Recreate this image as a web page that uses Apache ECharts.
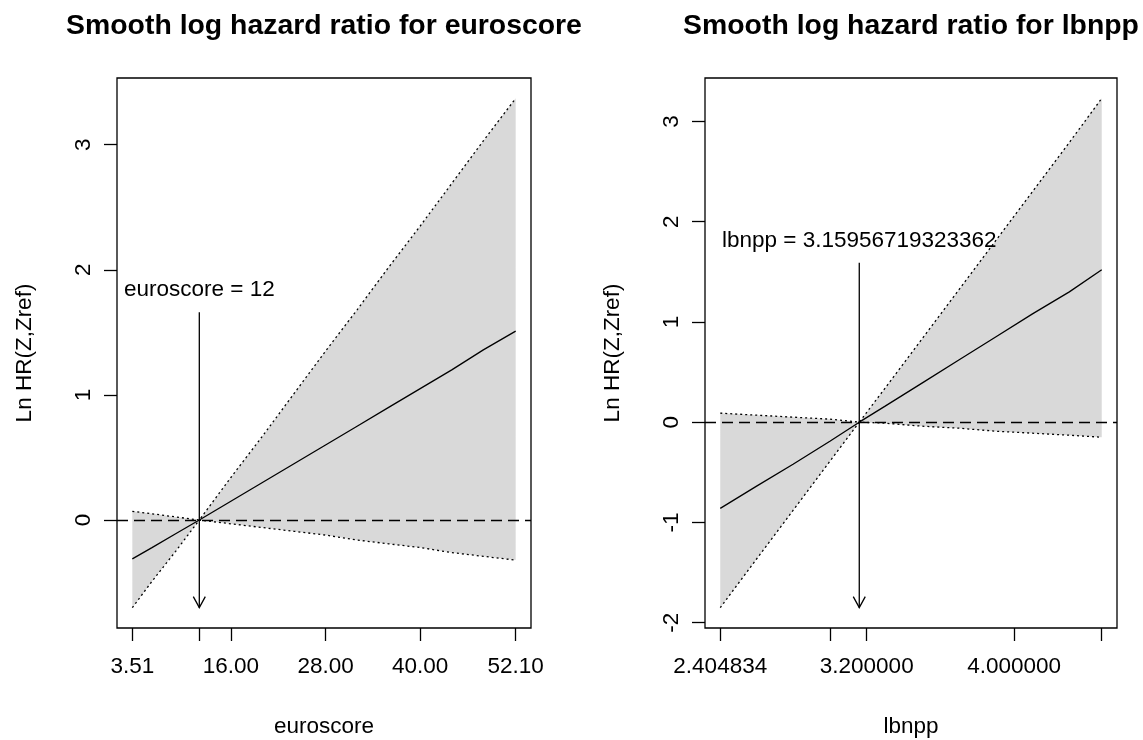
<!DOCTYPE html>
<html>
<head>
<meta charset="utf-8">
<script src="https://cdn.jsdelivr.net/npm/echarts@6/dist/echarts.min.js"></script>
<style>
  html, body { margin: 0; padding: 0; background: #fff; }
  #chart { width: 1143px; height: 740px; }
</style>
</head>
<body>
<div id="chart"></div>
<script>
// ---- euroscore panel ----
const euroX     = [3.51, 6, 9, 12, 16, 20, 24, 28, 32, 36, 40, 44, 48, 52.1];
const euroFit   = [-0.31, -0.22, -0.11, 0, 0.15, 0.30, 0.45, 0.60, 0.75, 0.90, 1.05, 1.20, 1.36, 1.51];
const euroUpper = [0.07, 0.05, 0.025, 0, 0.34, 0.67, 1.01, 1.35, 1.68, 2.02, 2.35, 2.69, 3.03, 3.37];
const euroLower = [-0.70, -0.49, -0.25, 0, -0.03, -0.06, -0.09, -0.12, -0.16, -0.19, -0.22, -0.26, -0.29, -0.32];
const euroRef = 12;
const euroTickX  = [3.51, 12, 16, 28, 40, 52.1];
const euroLabelX = [3.51, 16, 28, 40, 52.1];
const euroTickY  = [0, 1, 2, 3];
const euroRefText = 1.84, euroArrowTop = 1.66;

// ---- lbnpp panel ----
const lbX     = [2.404834, 2.6, 2.8, 3.0, 3.15956719323362, 3.3, 3.5, 3.7, 3.9, 4.1, 4.3, 4.476];
const lbFit   = [-0.86, -0.64, -0.42, -0.19, 0, 0.16, 0.39, 0.62, 0.85, 1.08, 1.30, 1.52];
const lbUpper = [0.09, 0.07, 0.05, 0.03, 0, 0.34, 0.83, 1.32, 1.81, 2.30, 2.79, 3.23];
const lbLower = [-1.85, -1.37, -0.88, -0.39, 0, -0.01, -0.04, -0.06, -0.09, -0.11, -0.13, -0.15];
const lbRef = 3.15956719323362;
const lbTickX  = [2.404834, 3.0, 3.2, 4.0, 4.476];
const lbLabelX = [2.404834, 3.2, 4.0];
const lbTickY  = [-2, -1, 0, 1, 2, 3];
const lbRefText = 1.81, lbArrowTop = 1.59;

const FONT = '"Liberation Sans", Arial, sans-serif';
const zip = (xs, ys) => xs.map((x, i) => [x, ys[i]]);

// axis range padded 4% on each side of the data
function padRange(arrs) {
  const all = [].concat(...arrs);
  const lo = Math.min(...all), hi = Math.max(...all);
  const d = (hi - lo) * 0.04;
  return [lo - d, hi + d];
}

const panels = [
  { name: 'euroscore', x: euroX, fit: euroFit, up: euroUpper, lo: euroLower, ref: euroRef,
    refLabel: 'euroscore = ' + euroRef, tickX: euroTickX, labelX: euroLabelX, tickY: euroTickY,
    fmt: v => v.toFixed(2), textY: euroRefText, arrowTop: euroArrowTop,
    grid: { left: 117, top: 78, width: 414, height: 550 } },
  { name: 'lbnpp', x: lbX, fit: lbFit, up: lbUpper, lo: lbLower, ref: lbRef,
    refLabel: 'lbnpp = ' + lbRef, tickX: lbTickX, labelX: lbLabelX, tickY: lbTickY,
    fmt: v => v.toFixed(6), textY: lbRefText, arrowTop: lbArrowTop,
    grid: { left: 705, top: 78, width: 412, height: 550 } }
];

const grids = [], xAxes = [], yAxes = [], series = [], graphics = [];

panels.forEach((p, i) => {
  const xr = padRange([p.x]);
  const yr = padRange([p.up, p.lo]);
  grids.push(Object.assign({ show: true, borderColor: '#000', borderWidth: 1.3, backgroundColor: 'transparent' }, p.grid));

  xAxes.push({
    type: 'value', gridIndex: i, min: xr[0], max: xr[1], position: 'bottom',
    axisLine: { show: false, onZero: false }, splitLine: { show: false },
    axisTick: { show: true, length: 13, customValues: p.tickX, lineStyle: { color: '#000', width: 1.3 } },
    axisLabel: { customValues: p.labelX, formatter: p.fmt, margin: 27, color: '#000',
                 fontFamily: FONT, fontSize: 22.5 }
  });
  yAxes.push({
    type: 'value', gridIndex: i, min: yr[0], max: yr[1], position: 'left',
    axisLine: { show: false, onZero: false }, splitLine: { show: false },
    axisTick: { show: true, length: 13, customValues: p.tickY, lineStyle: { color: '#000', width: 1.3 } },
    axisLabel: { customValues: p.tickY, rotate: 90, margin: 22, color: '#000',
                 fontFamily: FONT, fontSize: 22.5 }
  });

  const minLower = Math.min(...p.lo);

  // confidence band
  series.push({
    type: 'custom', xAxisIndex: i, yAxisIndex: i, silent: true, z: 1,
    data: [[p.x[0], p.up[0]]],
    renderItem: (params, api) => {
      const pts = zip(p.x, p.up).map(d => api.coord(d))
        .concat(zip(p.x, p.lo).reverse().map(d => api.coord(d)));
      return { type: 'polygon', shape: { points: pts }, style: { fill: '#d9d9d9', stroke: null } };
    }
  });

  const lineBase = { type: 'line', xAxisIndex: i, yAxisIndex: i, symbol: 'none', silent: true, z: 3,
                     animation: false };
  series.push(Object.assign({}, lineBase, {
    data: zip(p.x, p.up), lineStyle: { color: '#000', width: 1.3, type: [2, 3] } }));
  series.push(Object.assign({}, lineBase, {
    data: zip(p.x, p.lo), lineStyle: { color: '#000', width: 1.3, type: [2, 3] } }));
  series.push(Object.assign({}, lineBase, {
    data: zip(p.x, p.fit), lineStyle: { color: '#000', width: 1.3 },
    markLine: { silent: true, symbol: 'none', label: { show: false },
                lineStyle: { color: '#000', width: 1.3, type: [11, 6] },
                data: [{ yAxis: 0 }] } }));

  // reference value: label and arrow pointing down
  series.push({
    type: 'custom', xAxisIndex: i, yAxisIndex: i, silent: true, z: 4,
    data: [[p.ref, p.textY, p.arrowTop, minLower]],
    encode: { x: 0, y: [1, 2, 3] },
    renderItem: (params, api) => {
      const t = api.coord([api.value(0), api.value(1)]);
      const a = api.coord([api.value(0), api.value(2)]);
      const b = api.coord([api.value(0), api.value(3)]);
      const h = 11, w = 6;
      return { type: 'group', children: [
        { type: 'line', shape: { x1: a[0], y1: a[1], x2: b[0], y2: b[1] },
          style: { stroke: '#000', lineWidth: 1.3 } },
        { type: 'polyline', shape: { points: [[b[0] - w, b[1] - h], [b[0], b[1]], [b[0] + w, b[1] - h]] },
          style: { stroke: '#000', lineWidth: 1.3, fill: null } },
        { type: 'text', x: t[0], y: t[1],
          style: { text: p.refLabel, fill: '#000', font: '22.5px ' + FONT,
                   textAlign: 'center', textVerticalAlign: 'middle' } }
      ] };
    }
  });

  const cx = p.grid.left + p.grid.width / 2;
  graphics.push(
    { type: 'text', x: cx, y: 26,
      style: { text: 'Smooth log hazard ratio for ' + p.name, fill: '#000',
               font: 'bold 28.4px ' + FONT, textAlign: 'center', textVerticalAlign: 'middle' } },
    { type: 'text', x: cx, y: 727,
      style: { text: p.name, fill: '#000', font: '22.5px ' + FONT,
               textAlign: 'center', textVerticalAlign: 'middle' } },
    { type: 'text', x: p.grid.left - 92, y: p.grid.top + p.grid.height / 2, rotation: Math.PI / 2,
      style: { text: 'Ln HR(Z,Zref)', fill: '#000', font: '22.5px ' + FONT,
               textAlign: 'center', textVerticalAlign: 'middle' } }
  );
});

const chart = echarts.init(document.getElementById('chart'), null, { renderer: 'canvas' });
chart.setOption({
  animation: false,
  backgroundColor: '#fff',
  grid: grids, xAxis: xAxes, yAxis: yAxes, series: series,
  graphic: graphics
});
</script>
</body>
</html>
